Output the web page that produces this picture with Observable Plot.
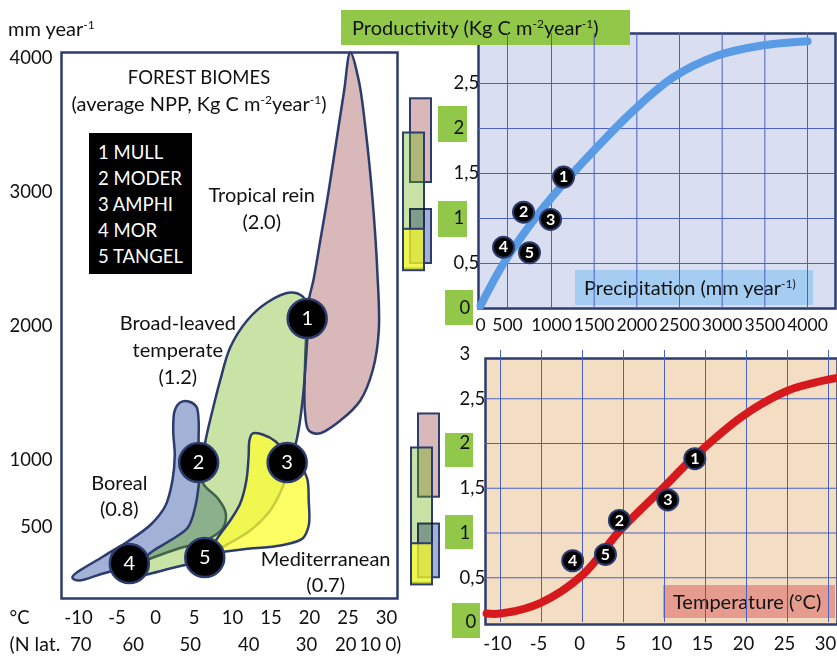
<!DOCTYPE html>
<html><head><meta charset="utf-8">
<script src="https://cdn.jsdelivr.net/npm/d3@7"></script>
<script src="https://cdn.jsdelivr.net/npm/@observablehq/plot@0.6"></script>
<style>
body{margin:0;background:#fff;font-family:Lato,"Open Sans",sans-serif;color:#111}
#wrap{position:relative;width:837px;height:659px;overflow:hidden;background:#fff}
#wrap svg{position:absolute;left:0;top:0}
.h{position:absolute;white-space:nowrap;font-size:20px;line-height:24px}
.h sup{font-size:12px;vertical-align:0;position:relative;top:-7px}
.box{position:absolute}
</style></head><body><div id="wrap"></div>
<script>
// ---------- LEFT PANEL: biome outlines (temperature °C, precipitation mm/yr)
const tropical = [[25.3,4045],[26.4,3835],[27.3,3462],[28.2,2938],[28.8,2415],[29.0,1966],[28.2,1667],[26.6,1443],[24.0,1293],[21.2,1196],[19.9,1219],[19.4,1368],[19.4,1667],[19.6,1966],[19.9,2191],[20.5,2340],[21.4,2639],[22.5,3013],[23.5,3387],[24.5,3761]].map(([t,p])=>({t,p}));
const boreal = [[-10.8,120],[-6.8,277],[-3.6,389],[-0.6,516],[1.3,658],[2.2,845],[2.5,1032],[2.3,1219],[2.5,1368],[3.2,1428],[4.3,1436],[5.3,1398],[5.6,1293],[5.6,1144],[5.7,979],[6.2,822],[8.1,710],[9.1,606],[8.8,493],[6.5,396],[3.0,336],[-0.3,269],[-3.2,202],[-6.8,150],[-10.0,97]].map(([t,p])=>({t,p}));
const temperate = [[-2.6,187],[-0.6,307],[1.9,396],[4.2,493],[5.2,658],[5.7,845],[6.5,1144],[7.4,1368],[8.4,1593],[9.7,1839],[11.9,2041],[14.5,2176],[17.5,2250],[19.1,2221],[19.9,2116],[19.7,1892],[19.1,1443],[18.4,1166],[17.5,979],[16.6,807],[14.9,621],[12.3,471],[9.1,359],[6.5,269],[4.5,224],[1.9,187],[-0.6,150],[-2.2,135]].map(([t,p])=>({t,p}));
const mediterranean = [[12.6,1196],[13.9,1189],[15.6,1136],[17.1,1032],[18.8,957],[19.7,860],[19.9,695],[19.9,508],[19.1,411],[16.2,359],[12.3,336],[9.1,314],[7.1,299],[8.1,419],[9.7,546],[11.0,673],[11.8,845],[12.1,1032],[12.2,1144]].map(([t,p])=>({t,p}));
const soilLeft = [[1,19.7,2056],[2,5.6,979],[3,17.1,979],[4,-3.4,224],[5,6.4,269]].map(([n,t,p])=>({n,t,p}));
const biomeLabels = [
  {label:"Tropical rein\n(2.0)", t:13.8, p:2890},
  {label:"Broad-leaved\ntemperate\n(1.2)", t:2.9, p:1832},
  {label:"Boreal\n(0.8)", t:-4.7, p:740},
  {label:"Mediterranean\n(0.7)", t:22.1, p:172}
];
const precipTicksLeft = [500,1000,2000,3000,4000];
const tempTicksLeft = [-10,-5,0,5,10,15,20,25,30];
const latTicks = [{label:"70",t:-9.7},{label:"60",t:-2.9},{label:"50",t:4.5},{label:"40",t:12.1},{label:"30",t:19.6},{label:"20",t:24.7},{label:"10",t:27.9},{label:"0)",t:30.9}];
const humusTypes = ["1 MULL","2 MODER","3 AMPHI","4 MOR","5 TANGEL"];

// ---------- NPP ranges of biomes (Kg C m-2 year-1)
const biomeRanges = [
  {biome:"Tropical", lo:1.40, hi:2.33},
  {biome:"Temperate", lo:0.44, hi:1.95},
  {biome:"Boreal", lo:0.50, hi:1.10},
  {biome:"Mediterranean", lo:0.42, hi:0.88}
];

// ---------- TOP RIGHT: productivity vs precipitation
const precipCurve = [[0,0.03],[426,0.5],[795,0.98],[1070,1.31],[1422,1.68],[1961,2.2],[2430,2.57],[2946,2.81],[3449,2.92],[4000,2.97]].map(([p,v])=>({p,v}));
const soilPrecip = [[1,1141,1.46],[2,682,1.07],[3,989,0.99],[4,426,0.68],[5,750,0.62]].map(([n,p,v])=>({n,p,v}));
const precipTicks = [0,500,1000,1500,2000,2500,3000,3500,4000];
const nppTicksTop = [0,0.5,1,1.5,2,2.5];

// ---------- BOTTOM RIGHT: productivity vs temperature
const tempCurve = [[-11.7,0.10],[-10,0.10],[-5.1,0.22],[0,0.53],[4.6,1.03],[9.9,1.51],[13.5,1.84],[19.6,2.31],[25,2.59],[30.9,2.73]].map(([t,v])=>({t,v}));
const soilTemp = [[1,13.7,1.83],[2,4.5,1.14],[3,10.4,1.37],[4,-1.2,0.69],[5,2.8,0.76]].map(([n,t,v])=>({n,t,v}));
const tempTicks = [-10,-5,0,5,10,15,20,25,30];
const nppTicksBottom = [0,0.5,1,1.5,2,2.5,3];

// ---------- style
const FONT = 'Lato, "Open Sans", sans-serif';
const NAVY = "#2d3c6e", GRID = "#4a60c4";
const fills = {
  Tropical:{fill:"#d9b8b9"},
  Temperate:{fill:"rgb(100,174,0)", fillOpacity:0.35},
  Boreal:{fill:"#a2b1d6"},
  Mediterranean:{fill:"rgb(252,254,48)", fillOpacity:0.75}
};
const fmt = d => String(d).replace(".", ",");
const W = 837, H = 659;
const wrap = document.getElementById("wrap");
const baseStyle = {background:"transparent", fontFamily:FONT, fontSize:"18.5px", color:"#111", overflow:"visible"};
function add(el){ wrap.appendChild(el); return el; }
function html(cls, l, t, inner, extra){ const d=document.createElement("div"); d.className=cls; d.style.left=l+"px"; d.style.top=t+"px"; if(extra) Object.assign(d.style, extra); d.innerHTML=inner; return add(d); }

// ---- background frames of right panels
add(Plot.plot({width:W, height:H, marginLeft:478, marginTop:33, marginRight:2, marginBottom:351, style:baseStyle,
  marks:[Plot.frame({fill:"#d9def0", stroke:NAVY, strokeWidth:2.5})]}));
add(Plot.plot({width:W, height:H, marginLeft:485, marginTop:358, marginRight:0, marginBottom:35, style:baseStyle,
  marks:[Plot.frame({fill:"#f3ddc3", stroke:NAVY, strokeWidth:2.5})]}));

// ---- label boxes (beneath grid lines)
html("box h", 341, 10, 'Productivity (Kg C m<sup>-2</sup>year<sup>-1</sup>)', {width:"278px", height:"35px", lineHeight:"35px", background:"#92c84a", paddingLeft:"11px"});
html("box h", 575, 270, 'Precipitation (mm year<sup>-1)</sup>', {width:"229px", height:"35px", lineHeight:"35px", background:"#a5cdf1", paddingLeft:"9px"});
html("box h", 663, 585, 'Temperature (°C)', {width:"162px", height:"33px", lineHeight:"33px", background:"#e59b8e", paddingLeft:"10px"});
[[438,106,29,36],[438,201,29,36],[445,290,28,35],[445,433,28,34],[445,515,28,34],[452,603,28,35]].forEach(([l,t,w,h])=>
  html("box", l, t, "", {width:w+"px", height:h+"px", background:"#92c84a"}));

// ---- left panel
const blob = (data, biome) => Plot.line(data, {x:"t", y:"p", curve:"catmull-rom-closed", stroke:NAVY, strokeWidth:2.5, ...fills[biome]});
add(Plot.plot({
  width:W, height:H, marginLeft:61, marginTop:52, marginRight:440, marginBottom:61, style:baseStyle,
  x:{domain:[-10,30], range:[78,386], axis:null},
  y:{domain:[0,4000], range:[593,58], axis:null},
  marks:[
    Plot.frame({stroke:NAVY, strokeWidth:2.5}),
    blob(tropical, "Tropical"),
    blob(boreal, "Boreal"),
    blob(temperate, "Temperate"),
    blob(mediterranean, "Mediterranean"),
    Plot.dot(soilLeft, {x:"t", y:"p", r:19.5, fill:"#000", stroke:NAVY, strokeWidth:2.5}),
    Plot.text(soilLeft, {x:"t", y:"p", text:"n", fill:"#fff", fontSize:20}),
    Plot.text(biomeLabels, {x:"t", y:"p", text:"label", fontSize:20, lineHeight:1.33}),
    Plot.text(precipTicksLeft, {y:d=>d, text:d=>String(d), frameAnchor:"left", dx:-9, textAnchor:"end"}),
    Plot.text(tempTicksLeft, {x:d=>d, text:d=>String(d), frameAnchor:"bottom", dy:25}),
    Plot.text(latTicks, {x:"t", text:"label", frameAnchor:"bottom", dy:52}),
    Plot.text(["°C"], {frameAnchor:"bottom-left", dx:-52, dy:25, textAnchor:"start"}),
    Plot.text(["(N lat."], {frameAnchor:"bottom-left", dx:-52, dy:52, textAnchor:"start", fontSize:19.5})
  ]
}));

// ---- NPP range bars
const colOf = {Tropical:1, Temperate:0, Boreal:1, Mediterranean:0};
function bars(xr, yd, yr){
  return Plot.plot({width:W, height:H, style:baseStyle,
    x:{domain:[0,4], range:xr, axis:null}, y:{domain:yd, range:yr, axis:null},
    marks: biomeRanges.map(b=>Plot.rect([b], {x1:d=>colOf[d.biome], x2:d=>colOf[d.biome]+3, y1:"lo", y2:"hi",
      stroke:NAVY, strokeWidth:2, ...fills[b.biome], mixBlendMode: b.biome === "Boreal" ? "multiply" : "normal"}))
  });
}
add(bars([403,431], [0,3], [308,38]));
add(bars([411,439], [0,3], [622,353.5]));

// ---- top right: productivity vs precipitation
add(Plot.plot({
  width:W, height:H, marginLeft:478, marginTop:33, marginRight:2, marginBottom:351, style:baseStyle,
  x:{type:"linear", domain:[0,500,1000,4000], range:[480,507,551,807], axis:null},
  y:{domain:[0,3], range:[308,38], axis:null},
  marks:[
    Plot.ruleX(precipTicks.filter(d=>d>0), {stroke:GRID, strokeWidth:1}),
    Plot.ruleY(nppTicksTop.filter(d=>d>0), {stroke:GRID, strokeWidth:1}),
    Plot.line(precipCurve, {x:"p", y:"v", stroke:"#5a9be6", strokeWidth:8, curve:"catmull-rom"}),
    Plot.dot(soilPrecip, {x:"p", y:"v", r:10.5, fill:"#000", stroke:NAVY, strokeWidth:2}),
    Plot.text(soilPrecip, {x:"p", y:"v", text:"n", fill:"#fff", fontSize:16, fontWeight:"bold"}),
    Plot.text(nppTicksTop.filter(d=>d>0), {y:d=>d, text:fmt, frameAnchor:"left", dx:-25}),
    Plot.text([0], {y:d=>d, text:fmt, frameAnchor:"left", dx:-19}),
    Plot.text(precipTicks, {x:d=>d, text:d=>String(d), frameAnchor:"bottom", dy:22, fontSize:17.5})
  ]
}));

// ---- bottom right: productivity vs temperature
add(Plot.plot({
  width:W, height:H, marginLeft:485, marginTop:358, marginRight:0, marginBottom:35, style:baseStyle,
  x:{domain:[-10,30], range:[500,828], axis:null},
  y:{domain:[0,3], range:[622,353.5], axis:null},
  marks:[
    Plot.ruleX(tempTicks, {stroke:GRID, strokeWidth:1, y1:0, y2:3.04}),
    Plot.ruleY(nppTicksBottom.filter(d=>d>0 && d<3), {stroke:GRID, strokeWidth:1}),
    Plot.line(tempCurve, {x:"t", y:"v", stroke:"#d6191c", strokeWidth:8, curve:"catmull-rom"}),
    Plot.dot(soilTemp, {x:"t", y:"v", r:10.5, fill:"#000", stroke:NAVY, strokeWidth:2}),
    Plot.text(soilTemp, {x:"t", y:"v", text:"n", fill:"#fff", fontSize:16, fontWeight:"bold"}),
    Plot.text(nppTicksBottom.filter(d=>d>0), {y:d=>d, text:fmt, frameAnchor:"left", dx:-26}),
    Plot.text([0], {y:d=>d, text:fmt, frameAnchor:"left", dx:-20}),
    Plot.text(tempTicks, {x:d=>d, text:d=>String(d), frameAnchor:"bottom", dy:25, dx:-3})
  ]
}));

// ---- text overlays
html("h", 8, 16, 'mm year<sup>-1</sup>');
html("h", 199, 65, 'FOREST BIOMES', {transform:"translateX(-50%)", fontSize:"18.5px"});
html("h", 199, 91, '(average NPP, Kg C m<sup>-2</sup>year<sup>-1</sup>)', {transform:"translateX(-50%)"});
html("box h", 89, 133, humusTypes.join("<br>"), {width:"94px", height:"135px", background:"#000", color:"#fff", paddingLeft:"9px", paddingTop:"6px", lineHeight:"26px", fontSize:"18.5px"});
</script></body></html>
